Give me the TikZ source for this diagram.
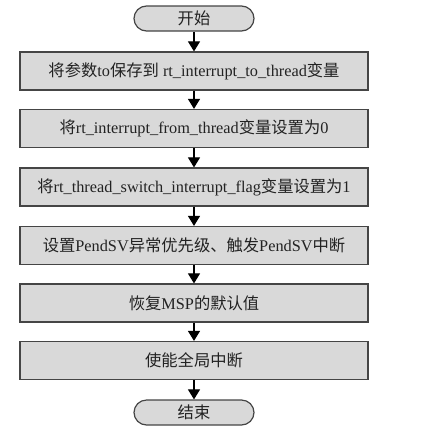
\documentclass[tikz,border=0pt]{standalone}
\usepackage{fontspec}
\setmainfont{Liberation Serif}
\newfontfamily\cjk{Noto Sans CJK SC}
\usetikzlibrary{arrows.meta}
\newcommand{\zh}[1]{{\cjk #1}}
\definecolor{boxfill}{HTML}{D9D9D9}
\definecolor{boxline}{HTML}{454545}
\definecolor{txt}{HTML}{222222}
\begin{document}
\begin{tikzpicture}[x=1pt,y=-1pt,
  stepbox/.style={draw=boxline, fill=boxfill, line width=1.2pt,
    minimum width=348pt, minimum height=38pt, inner sep=0pt,
    font=\fontsize{16.3pt}{18pt}\selectfont, text=txt},
  term/.style={draw=boxline, fill=boxfill, line width=1.2pt,
    rounded corners=12.5pt, minimum width=120pt, minimum height=25pt,
    inner sep=0pt, font=\fontsize{16.3pt}{18pt}\selectfont, text=txt},
  flow/.style={draw=black, line width=1.1pt, -{Triangle[length=10pt,width=12pt]}}]
\useasboundingbox (0,0) rectangle (430,429);
\node[term]    (start) at (194,18.5)  {\zh{开始}};
\node[stepbox] (s1)    at (194,71)    {\zh{将参数}to\zh{保存到} rt\_interrupt\_to\_thread\zh{变量}};
\node[stepbox] (s2)    at (194,128.5) {\zh{将}rt\_interrupt\_from\_thread\zh{变量设置为}0};
\node[stepbox] (s3)    at (194,187)   {\zh{将}rt\_thread\_switch\_interrupt\_flag\zh{变量设置为}1};
\node[stepbox] (s4)    at (194,245.5) {\zh{设置}PendSV\zh{异常优先级、触发}PendSV\zh{中断}};
\node[stepbox] (s5)    at (194,303)   {\zh{恢复}MSP\zh{的默认值}};
\node[stepbox] (s6)    at (194,360.5) {\zh{使能全局中断}};
\node[term]    (stop)  at (194,412.5) {\zh{结束}};
\draw[flow] (start) -- (s1);
\draw[flow] (s1) -- (s2);
\draw[flow] (s2) -- (s3);
\draw[flow] (s3) -- (s4);
\draw[flow] (s4) -- (s5);
\draw[flow] (s5) -- (s6);
\draw[flow] (s6) -- (stop);
\end{tikzpicture}
\end{document}
